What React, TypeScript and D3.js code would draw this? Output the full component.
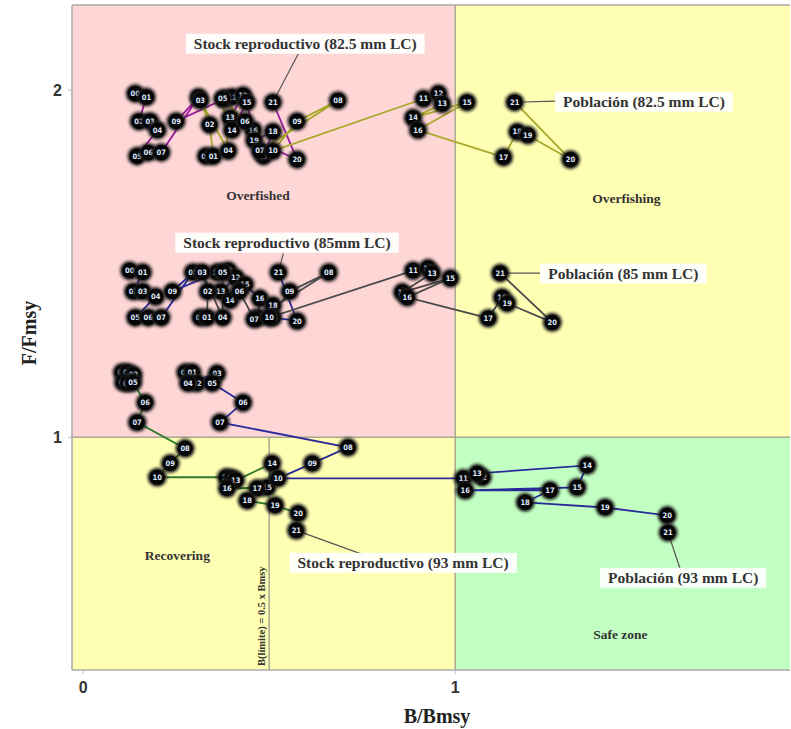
import React, { useEffect, useRef } from "react";
import * as d3 from "d3";

const W = 791;
const H = 729;

const years = ["00","01","02","03","04","05","06","07","08","09","10","11","12","13","14","15","16","17","18","19","20","21"];

// Stock reproductivo (82.5 mm LC)
const stock825X = [0.14,0.17,0.15,0.18,0.2,0.145,0.175,0.21,0.31,0.25,0.38,0.4,0.43,0.395,0.4,0.44,0.457,0.485,0.51,0.46,0.575,0.51];
const stock825Y = [1.99,1.98,1.91,1.91,1.885,1.81,1.82,1.82,1.98,1.91,1.975,1.98,1.985,1.92,1.885,1.965,1.885,1.81,1.88,1.855,1.8,1.965];
// Población (82.5 mm LC)
const pob825X = [0.33,0.35,0.34,0.315,0.39,0.375,0.435,0.475,0.685,0.575,0.51,0.915,0.955,0.965,0.887,1.032,0.9,1.13,1.167,1.195,1.31,1.16];
const pob825Y = [1.81,1.81,1.9,1.97,1.825,1.975,1.91,1.825,1.97,1.91,1.825,1.975,1.99,1.96,1.92,1.965,1.885,1.807,1.88,1.87,1.8,1.965];
// Stock reproductivo (85 mm LC)
const stock85X = [0.125,0.16,0.135,0.16,0.195,0.14,0.175,0.21,0.295,0.24,0.36,0.39,0.41,0.37,0.395,0.435,0.475,0.47,0.51,0.51,0.575,0.525];
const stock85Y = [1.48,1.475,1.42,1.42,1.405,1.345,1.345,1.345,1.475,1.42,1.475,1.48,1.46,1.42,1.395,1.44,1.4,1.345,1.38,1.345,1.335,1.475];
// Población (85 mm LC)
const pob85X = [0.315,0.333,0.335,0.32,0.375,0.375,0.42,0.46,0.66,0.555,0.5,0.887,0.927,0.938,0.858,0.987,0.871,1.089,1.126,1.14,1.261,1.121];
const pob85Y = [1.345,1.345,1.42,1.475,1.345,1.475,1.42,1.34,1.475,1.42,1.345,1.48,1.487,1.473,1.418,1.458,1.403,1.343,1.403,1.386,1.331,1.473];
// Stock reproductivo (93 mm LC)
const stock93X = [0.105,0.12,0.135,0.108,0.12,0.134,0.167,0.145,0.274,0.234,0.199,0.385,0.4,0.41,0.508,0.495,0.387,0.468,0.441,0.516,0.578,0.573];
const stock93Y = [1.187,1.187,1.18,1.158,1.156,1.158,1.1,1.043,0.968,0.925,0.885,0.885,0.882,0.876,0.925,0.856,0.853,0.853,0.818,0.804,0.781,0.732];
// Población (93 mm LC)
const pob93X = [0.275,0.293,0.306,0.36,0.282,0.347,0.43,0.368,0.712,0.616,0.524,1.022,1.073,1.059,1.355,1.328,1.027,1.255,1.188,1.403,1.57,1.572];
const pob93Y = [1.187,1.187,1.156,1.184,1.156,1.156,1.1,1.043,0.971,0.925,0.882,0.882,0.885,0.896,0.919,0.856,0.847,0.847,0.813,0.798,0.775,0.726];

const seriesNames = [
  "Stock reproductivo (82.5 mm LC)",
  "Población (82.5 mm LC)",
  "Stock reproductivo (85mm LC)",
  "Población (85 mm LC)",
  "Stock reproductivo (93 mm LC)",
  "Población (93 mm LC)",
];
const seriesX = [stock825X, pob825X, stock85X, pob85X, stock93X, pob93X];
const seriesY = [stock825Y, pob825Y, stock85Y, pob85Y, stock93Y, pob93Y];
const seriesColors = ["#9a1a9a", "#a8a82a", "#2a2a9a", "#4a4a4a", "#2f7a2f", "#2a2a9a"];

// annotation label positions (data units) and leader start
const labelX = [0.597, 1.29, 0.548, 1.25, 0.86, 1.613];
const labelY = [2.135, 1.968, 1.562, 1.473, 0.64, 0.597];
const labelAnchor = ["middle", "start", "middle", "start", "middle", "middle"];
const leaderX = [0.578, 1.269, 0.538, 1.228, 0.758, 1.605];
const leaderY = [2.104, 1.968, 1.53, 1.473, 0.66, 0.62];

const zoneNames = ["Overfished", "Overfishing", "Recovering", "Safe zone"];
const zoneX = [0.47, 1.46, 0.253, 1.444];
const zoneY = [1.692, 1.683, 0.657, 0.429];

const xTicks = [0, 1];
const yTicks = [1, 2];

export default function App() {
  const ref = useRef<SVGSVGElement>(null);
  useEffect(() => {
    document.body.style.margin = "0";
    const svg = d3.select(ref.current);
    svg.selectAll("*").remove();

    const x = d3.scaleLinear().domain([-0.03, 1.9]).range([72, 790]);
    const y = d3.scaleLinear().domain([0.33, 2.245]).range([670, 5]);
    const x0 = x(-0.03), x1 = x(1), x2 = x(1.9);
    const yB = y(0.33), y1 = y(1), yT = y(2.245);

    const defs = svg.append("defs");
    defs.append("clipPath").attr("id", "clip").append("rect")
      .attr("x", x0).attr("y", yT).attr("width", x2 - x0).attr("height", yB - yT);
    const f = defs.append("filter").attr("id", "halo").attr("x", "-50%").attr("y", "-50%").attr("width", "200%").attr("height", "200%");
    f.append("feGaussianBlur").attr("stdDeviation", 1.4);

    const g = svg.append("g").attr("clip-path", "url(#clip)");
    // zones
    g.append("rect").attr("x", x0).attr("y", yT).attr("width", x1 - x0).attr("height", y1 - yT).attr("fill", "#ffd6d6");
    g.append("rect").attr("x", x1).attr("y", yT).attr("width", x2 - x1).attr("height", y1 - yT).attr("fill", "#ffffb4");
    g.append("rect").attr("x", x0).attr("y", y1).attr("width", x1 - x0).attr("height", yB - y1).attr("fill", "#ffffb4");
    g.append("rect").attr("x", x1).attr("y", y1).attr("width", x2 - x1).attr("height", yB - y1).attr("fill", "#c2ffc2");

    // dividers
    g.append("line").attr("x1", x1).attr("x2", x1).attr("y1", yT).attr("y2", yB).attr("stroke", "#a8a890").attr("stroke-width", 1.5);
    g.append("line").attr("x1", x0).attr("x2", x2).attr("y1", y1).attr("y2", y1).attr("stroke", "#a8a890").attr("stroke-width", 1.5);
    g.append("line").attr("x1", x(0.5)).attr("x2", x(0.5)).attr("y1", y1).attr("y2", yB).attr("stroke", "#a8a890").attr("stroke-width", 1.5);

    // frame
    svg.append("line").attr("x1", x0).attr("x2", x2).attr("y1", yT).attr("y2", yT).attr("stroke", "#aaa").attr("stroke-width", 1.5);
    svg.append("line").attr("x1", x0).attr("x2", x0).attr("y1", yT).attr("y2", yB).attr("stroke", "#aaa").attr("stroke-width", 1.5);
    svg.append("line").attr("x1", x0).attr("x2", x2).attr("y1", yB).attr("y2", yB).attr("stroke", "#aaa").attr("stroke-width", 1.5);

    // vertical limit label
    g.append("text")
      .attr("transform", `translate(${x(0.5) - 4},${yB - 4}) rotate(-90)`)
      .attr("font-family", "Liberation Serif, serif").attr("font-weight", "bold").attr("font-size", 10.5)
      .attr("fill", "#333").text("B(límite) = 0.5 x Bmsy");

    // zone labels
    zoneNames.forEach((n, i) => {
      g.append("text").attr("x", x(zoneX[i])).attr("y", y(zoneY[i])).attr("text-anchor", "middle")
        .attr("dominant-baseline", "middle")
        .attr("font-family", "Liberation Serif, serif").attr("font-weight", "bold").attr("font-size", 13.5)
        .attr("fill", "#333").text(n);
    });

    // leader lines
    seriesNames.forEach((_, i) => {
      const n = seriesX[i].length - 1;
      g.append("line").attr("x1", x(leaderX[i])).attr("y1", y(leaderY[i]))
        .attr("x2", x(seriesX[i][n])).attr("y2", y(seriesY[i][n]))
        .attr("stroke", "#555").attr("stroke-width", 1.2);
    });

    // annotation labels with white boxes
    seriesNames.forEach((n, i) => {
      const t = g.append("text").attr("x", x(labelX[i])).attr("y", y(labelY[i]))
        .attr("text-anchor", labelAnchor[i]).attr("dominant-baseline", "central")
        .attr("font-family", "Liberation Serif, serif").attr("font-weight", "bold").attr("font-size", 15.5)
        .attr("fill", "#333").text(n);
      const bb = (t.node() as SVGTextElement).getBBox();
      g.insert("rect", () => t.node() as any)
        .attr("x", bb.x - 8).attr("y", bb.y - 1).attr("width", bb.width + 16).attr("height", bb.height + 2)
        .attr("fill", "#ffffff").attr("opacity", 0.92);
    });

    // trajectories
    seriesNames.forEach((_, i) => {
      const pts = seriesX[i].map((v, j) => [x(v), y(seriesY[i][j])] as [number, number]);
      g.append("path").attr("d", d3.line()(pts) as string).attr("fill", "none")
        .attr("stroke", seriesColors[i]).attr("stroke-width", 1.8);
    });

    // points
    seriesNames.forEach((_, i) => {
      const pg = g.append("g");
      seriesX[i].forEach((v, j) => {
        const cx = x(v), cy = y(seriesY[i][j]);
        pg.append("circle").attr("cx", cx).attr("cy", cy).attr("r", 9.6).attr("fill", "#1a1a1a").attr("filter", "url(#halo)");
        pg.append("circle").attr("cx", cx).attr("cy", cy).attr("r", 7.6).attr("fill", "#050505");
        pg.append("text").attr("x", cx).attr("y", cy).attr("text-anchor", "middle").attr("dominant-baseline", "central")
          .attr("font-family", "DejaVu Sans Condensed, DejaVu Sans, sans-serif").attr("font-weight", "bold").attr("font-size", 7.5)
          .attr("fill", "#dfe8ff").text(years[j]);
      });
    });

    // axes ticks
    xTicks.forEach((t) => {
      svg.append("line").attr("x1", x(t)).attr("x2", x(t)).attr("y1", yB).attr("y2", yB + 4).attr("stroke", "#bbb");
      svg.append("text").attr("x", x(t)).attr("y", yB + 23).attr("text-anchor", "middle")
        .attr("font-family", "Liberation Sans, Arial, sans-serif").attr("font-weight", "bold").attr("font-size", 16)
        .attr("fill", "#333").text(String(t));
    });
    yTicks.forEach((t) => {
      svg.append("line").attr("x1", x0 - 4).attr("x2", x0).attr("y1", y(t)).attr("y2", y(t)).attr("stroke", "#bbb");
      svg.append("text").attr("x", x0 - 10).attr("y", y(t)).attr("text-anchor", "end").attr("dominant-baseline", "central")
        .attr("font-family", "Liberation Sans, Arial, sans-serif").attr("font-weight", "bold").attr("font-size", 16)
        .attr("fill", "#333").text(String(t));
    });

    svg.append("text").attr("x", 437).attr("y", 723).attr("text-anchor", "middle")
      .attr("font-family", "Liberation Serif, serif").attr("font-weight", "bold").attr("font-size", 20)
      .attr("fill", "#222").text("B/Bmsy");
    svg.append("text").attr("transform", `translate(36,333) rotate(-90)`).attr("text-anchor", "middle")
      .attr("font-family", "Liberation Serif, serif").attr("font-weight", "bold").attr("font-size", 20)
      .attr("fill", "#222").text("F/Fmsy");
  }, []);
  return <svg ref={ref} width={W} height={H} style={{ display: "block" }} />;
}
